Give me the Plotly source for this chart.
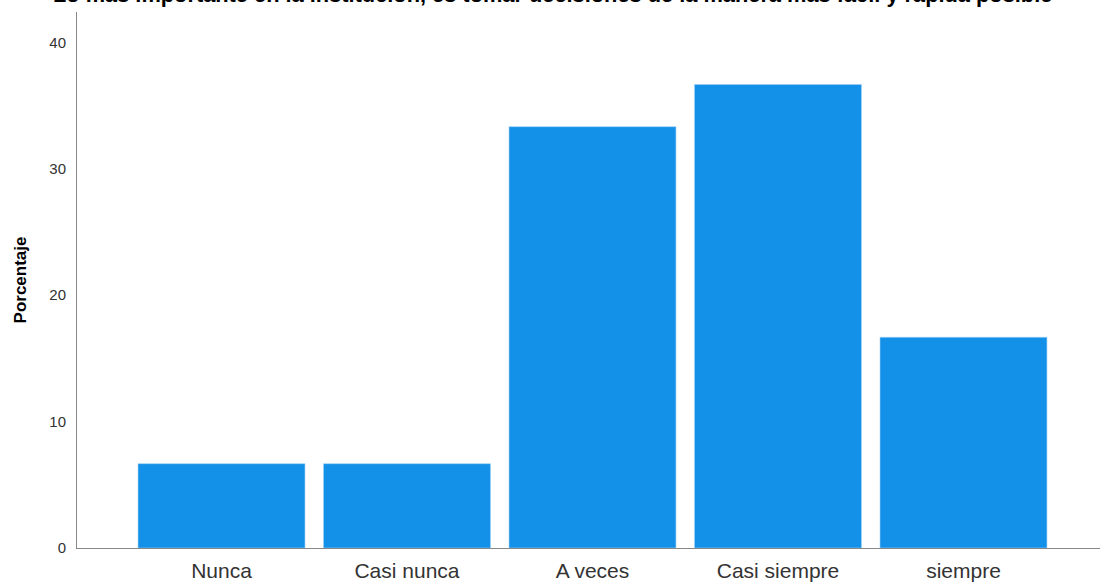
import plotly.graph_objects as go

categories = ["Nunca", "Casi nunca", "A veces", "Casi siempre", "siempre"]
porcentajes = [6.67, 6.67, 33.33, 36.67, 16.67]
y_ticks = [0, 10, 20, 30, 40]
title_text = "Lo más importante en la institución, es tomar decisiones de la manera más fácil y rápida posible"
y_title = "Porcentaje"

FONT = "Liberation Sans, Arial, sans-serif"

fig = go.Figure(go.Bar(
    x=list(range(len(categories))),
    y=porcentajes,
    width=0.9,
    marker=dict(color="#1390E8", line=dict(color="#9ed0f5", width=0.6)),
))

fig.update_layout(
    width=1100, height=587,
    margin=dict(l=77, r=0, t=12, b=39, autoexpand=False),
    paper_bgcolor="white", plot_bgcolor="white",
    font=dict(family=FONT, color="#222"),
    showlegend=False,
    annotations=[dict(
        text="<b>" + title_text + "</b>", xref="paper", yref="paper",
        x=(552 - 77) / 1023, y=1 + 18 / 536, xanchor="center", yanchor="middle",
        showarrow=False, font=dict(size=21.8, color="black", family=FONT),
    )],
)
fig.update_xaxes(
    range=[-0.779, 4.736],
    tickvals=list(range(len(categories))), ticktext=categories,
    showline=True, linecolor="#888", linewidth=1,
    showgrid=False, zeroline=False, ticks="",
    tickfont=dict(size=21, color="#333", family=FONT),
    ticklabelstandoff=4,
)
fig.update_yaxes(
    range=[0, 42.4],
    tickvals=y_ticks,
    showline=True, linecolor="#888", linewidth=1,
    showgrid=False, zeroline=False, ticks="",
    tickfont=dict(size=15, color="#333", family=FONT),
    ticklabelstandoff=7,
    title=dict(text="<b>" + y_title + "</b>", font=dict(size=17, color="black", family=FONT), standoff=18),
)

fig.write_html("out.html", config={"displayModeBar": False},
               post_script="document.body.style.margin='0';document.body.style.overflow='hidden';")
